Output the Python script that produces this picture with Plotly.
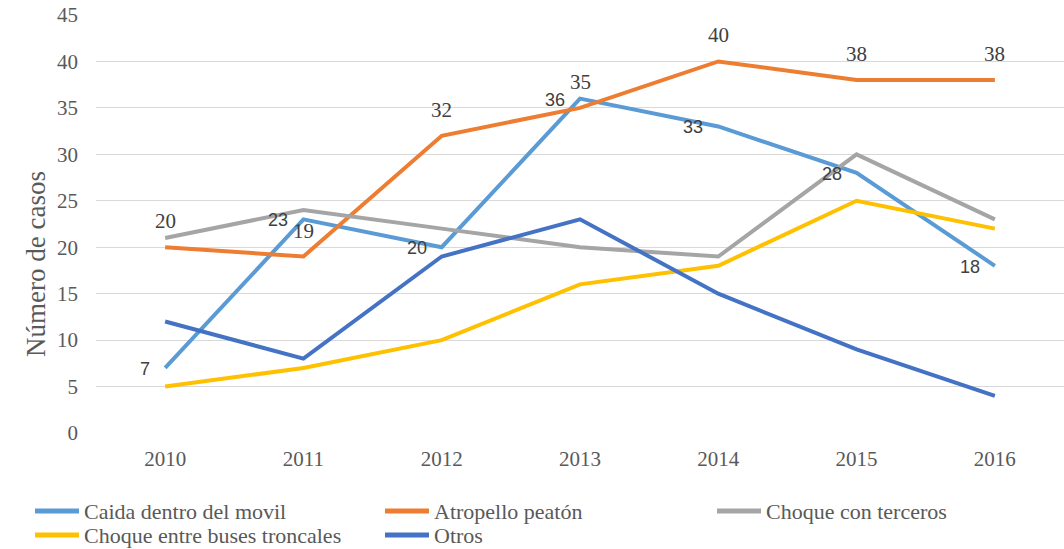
import plotly.graph_objects as go

years = ["2010", "2011", "2012", "2013", "2014", "2015", "2016"]
caida = [7, 23, 20, 36, 33, 28, 18]
atropello = [20, 19, 32, 35, 40, 38, 38]
terceros = [21, 24, 22, 20, 19, 30, 23]
troncales = [5, 7, 10, 16, 18, 25, 22]
otros = [12, 8, 19, 23, 15, 9, 4]

series = [
    ("Caida dentro del movil", caida, "#5B9BD5"),
    ("Atropello peatón", atropello, "#ED7D31"),
    ("Choque con terceros", terceros, "#A5A5A5"),
    ("Choque entre buses troncales", troncales, "#FFC000"),
    ("Otros", otros, "#4472C4"),
]

SERIF = "Liberation Serif, Times New Roman, serif"
SANS = "Liberation Sans, Arial, sans-serif"
GREY = "#595959"

W, H = 1064, 549
ML, MR, MT, MB = 96, 0, 15, 116
PW, PH = W - ML - MR, H - MT - MB


def px_to_paper(x, y):
    """Figure pixel position -> paper coordinates."""
    return (x - ML) / PW, (H - MB - y) / PH


fig = go.Figure()
for name, vals, color in series:
    fig.add_trace(go.Scatter(
        x=years, y=vals, mode="lines", name=name,
        line=dict(color=color, width=4), showlegend=False))

# data labels (category axis: use the category index as x)
for i, v in enumerate(atropello):
    fig.add_annotation(x=i, y=v, text=str(v), showarrow=False,
                       yshift=26, font=dict(family=SERIF, size=21, color="#404040"))
for i, v in enumerate(caida):
    fig.add_annotation(x=i, y=v, text=str(v), showarrow=False,
                       xanchor="right", xshift=-13, yshift=-1,
                       font=dict(family=SANS, size=18, color="#404040"))

# y axis title, placed like the original (a little below the middle)
tx, ty = px_to_paper(19, 264)
fig.add_annotation(x=tx, y=ty, xref="paper", yref="paper", text="Número de casos",
                   textangle=-90, showarrow=False,
                   font=dict(family=SERIF, size=27, color=GREY))

# hand-made legend, two rows like the Excel original
legend_pos = [(35, 511), (385, 511), (717, 511), (35, 535), (385, 535)]
for (name, _, color), (lx, ly) in zip(series, legend_pos):
    x0, y0 = px_to_paper(lx, ly)
    x1, _ = px_to_paper(lx + 44, ly)
    xt, _ = px_to_paper(lx + 47, ly)
    fig.add_shape(type="line", xref="paper", yref="paper",
                  x0=x0, x1=x1, y0=y0, y1=y0,
                  line=dict(color=color, width=5))
    fig.add_annotation(x=xt, y=y0, xref="paper", yref="paper", text=name,
                       xanchor="left", yanchor="middle", showarrow=False,
                       font=dict(family=SERIF, size=22, color=GREY))

fig.update_layout(
    width=W, height=H,
    paper_bgcolor="white", plot_bgcolor="white",
    margin=dict(l=ML, r=MR, t=MT, b=MB),
    xaxis=dict(type="category", range=[-0.5, 6.5], showgrid=False,
               showline=False, ticks="", ticklabelstandoff=11,
               tickfont=dict(family=SERIF, size=21, color=GREY)),
    yaxis=dict(range=[0, 45], dtick=5, showgrid=True, gridcolor="#D9D9D9",
               gridwidth=1, zeroline=False, showline=False, ticks="",
               ticklabelstandoff=17,
               tickfont=dict(family=SERIF, size=21, color=GREY)),
)

# drop the default 8px body margin so the figure fills the window exactly
fig.write_html("out.html", config={"displayModeBar": False},
               post_script="document.body.style.margin = '0';")
